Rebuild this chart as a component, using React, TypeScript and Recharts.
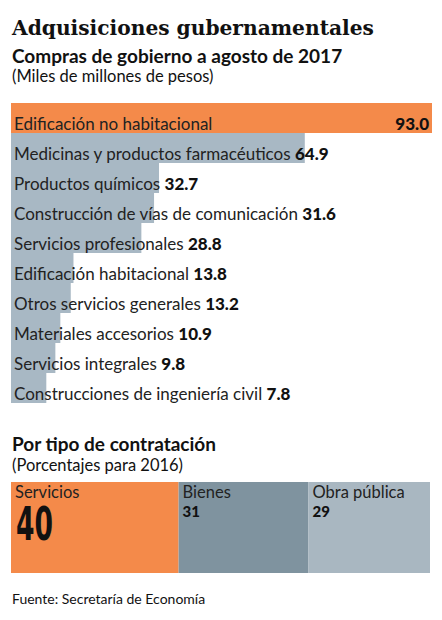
import React from "react";
import { BarChart, Bar, XAxis, YAxis, Cell, LabelList } from "recharts";

// Compras de gobierno a agosto de 2017 (miles de millones de pesos)
const categories = [
  "Edificación no habitacional",
  "Medicinas y productos farmacéuticos",
  "Productos químicos",
  "Construcción de vías de comunicación",
  "Servicios profesionales",
  "Edificación habitacional",
  "Otros servicios generales",
  "Materiales accesorios",
  "Servicios integrales",
  "Construcciones de ingeniería civil",
];
const amounts = [93.0, 64.9, 32.7, 31.6, 28.8, 13.8, 13.2, 10.9, 9.8, 7.8];

// Por tipo de contratación (porcentajes para 2016)
const contractTypes = ["Servicios", "Bienes", "Obra pública"];
const contractShares = [40, 31, 29];

const ORANGE = "#f48a4a";
const GREY = "#a8b8c4";
const contractColors = [ORANGE, "#7f939f", "#a9b7c1"];
const FONT = "Lato, 'Noto Sans', sans-serif";

const purchaseData = categories.map((name, i) => ({ name, value: amounts[i] }));
const contractRow = [
  contractTypes.reduce<Record<string, number | string>>(
    (row, t, i) => ({ ...row, [t]: contractShares[i] }),
    { name: "2016" }
  ),
];

const BarLabel = (props: any) => {
  const { x, y, width, height, index, value } = props;
  const by = y + height - 3;
  if (index === 0) {
    return (
      <g>
        <text x={x + 3} y={by} fontSize={17} fill="#222" fontFamily={FONT}>
          {categories[index]}
        </text>
        <text
          x={x + width - 3}
          y={by}
          fontSize={17}
          fontWeight={900}
          fill="#111"
          textAnchor="end"
          fontFamily={FONT}
        >
          {value.toFixed(1)}
        </text>
      </g>
    );
  }
  return (
    <text x={x + 3} y={by} fontSize={17} fill="#222" fontFamily={FONT}>
      {categories[index]}{" "}
      <tspan fontWeight={900} fill="#111">
        {value.toFixed(1)}
      </tspan>
    </text>
  );
};

const ContractLabel = (name: string, big: boolean) => (props: any) => {
  const { x, y, value } = props;
  return (
    <g fontFamily={FONT}>
      <text x={x + 4} y={y + 16} fontSize={16.5} fill="#222">
        {name}
      </text>
      {big ? (
        <text
          x={x + 5}
          y={y + 58}
          fontSize={46}
          fontWeight={700}
          fill="#111"
          textLength={37}
          lengthAdjust="spacingAndGlyphs"
          fontFamily="'Liberation Sans Narrow', 'DejaVu Sans Condensed', sans-serif"
        >
          {value}
        </text>
      ) : (
        <text x={x + 4} y={y + 35} fontSize={15} fontWeight={900} fill="#111">
          {value}
        </text>
      )}
    </g>
  );
};

export default function App() {
  return (
    <div
      style={{
        position: "absolute",
        top: 0,
        left: 0,
        width: 442,
        height: 620,
        background: "#fff",
        fontFamily: FONT,
        color: "#111",
      }}
    >
      <div
        style={{
          position: "absolute",
          left: 12,
          top: 18,
          fontFamily: "'DejaVu Serif', serif",
          fontWeight: 700,
          fontSize: 20.2,
          lineHeight: "20px",
          whiteSpace: "nowrap",
        }}
      >
        Adquisiciones gubernamentales
      </div>
      <div
        style={{
          position: "absolute",
          left: 12,
          top: 46.5,
          fontWeight: 700,
          fontSize: 19,
          lineHeight: "18px",
        }}
      >
        Compras de gobierno a agosto de 2017
      </div>
      <div style={{ position: "absolute", left: 12, top: 67.5, fontSize: 16.5, lineHeight: "16px" }}>
        (Miles de millones de pesos)
      </div>

      <div style={{ position: "absolute", left: 0, top: 103 }}>
        <BarChart
          width={442}
          height={300}
          data={purchaseData}
          layout="vertical"
          margin={{ top: 0, right: 10, bottom: 0, left: 11 }}
          barCategoryGap={0}
        >
          <XAxis type="number" domain={[0, 93]} hide />
          <YAxis type="category" dataKey="name" hide />
          <Bar dataKey="value" isAnimationActive={false}>
            {purchaseData.map((d, i) => (
              <Cell key={d.name} fill={i === 0 ? ORANGE : GREY} />
            ))}
            <LabelList dataKey="value" content={BarLabel} />
          </Bar>
        </BarChart>
      </div>

      <div
        style={{
          position: "absolute",
          left: 12,
          top: 434.5,
          fontWeight: 700,
          fontSize: 19,
          lineHeight: "18px",
        }}
      >
        Por tipo de contratación
      </div>
      <div style={{ position: "absolute", left: 12, top: 456.5, fontSize: 16.5, lineHeight: "16px" }}>
        (Porcentajes para 2016)
      </div>

      <div style={{ position: "absolute", left: 0, top: 482 }}>
        <BarChart
          width={442}
          height={91}
          data={contractRow}
          layout="vertical"
          margin={{ top: 0, right: 12, bottom: 0, left: 11 }}
          barCategoryGap={0}
        >
          <XAxis type="number" domain={[0, 100]} hide />
          <YAxis type="category" dataKey="name" hide />
          {contractTypes.map((t, i) => (
            <Bar
              key={t}
              dataKey={t}
              stackId="a"
              fill={contractColors[i]}
              isAnimationActive={false}
            >
              <LabelList dataKey={t} content={ContractLabel(t, i === 0)} />
            </Bar>
          ))}
        </BarChart>
      </div>

      <div style={{ position: "absolute", left: 12, top: 590, fontSize: 14, lineHeight: "17px" }}>
        Fuente: Secretaría de Economía
      </div>
    </div>
  );
}
